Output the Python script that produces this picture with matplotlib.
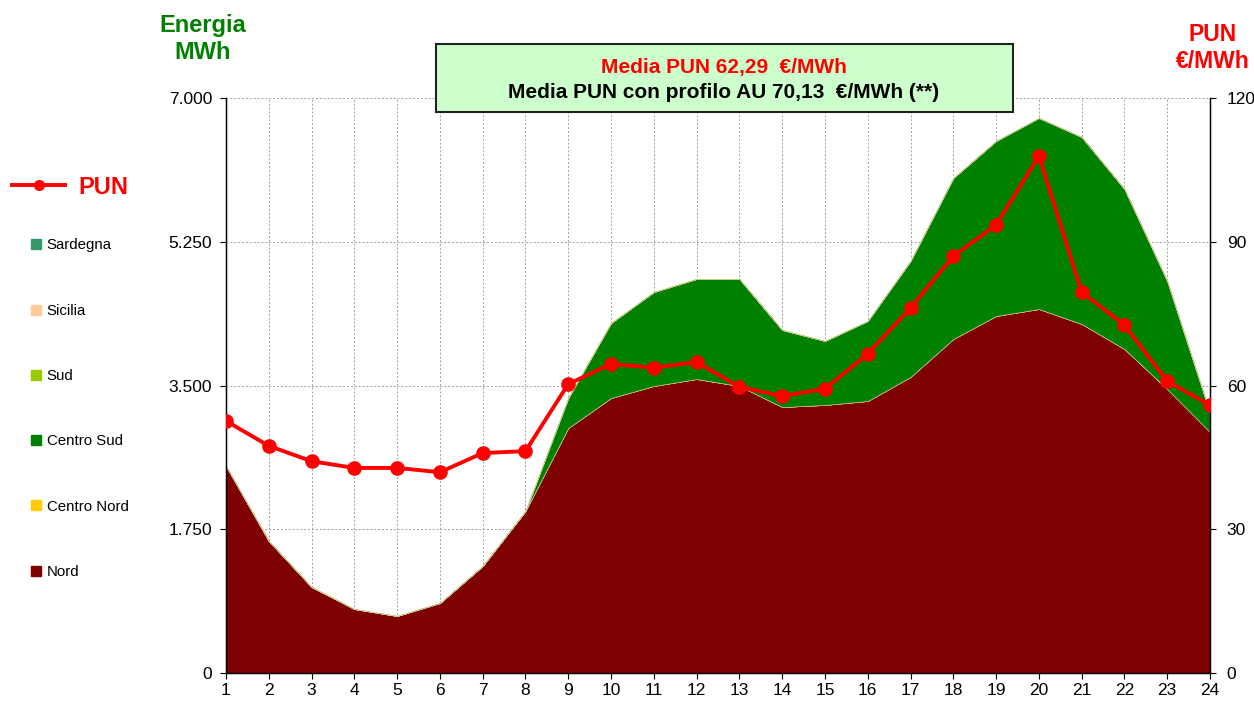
import matplotlib
matplotlib.use("Agg")
import matplotlib.pyplot as plt
from matplotlib.lines import Line2D
from matplotlib.patches import FancyBboxPatch
from matplotlib.ticker import FuncFormatter, FixedLocator

plt.rcParams['font.family'] = ['Liberation Sans', 'DejaVu Sans']

hours = list(range(1, 25))
nord = [2520, 1607, 1047, 779, 694, 852, 1303, 1972, 2983, 3348, 3494, 3579,
        3494, 3238, 3263, 3311, 3604, 4066, 4346, 4431, 4249, 3944, 3457, 2934]
centro_nord = [0] * 24
totale = [2520, 1607, 1047, 779, 694, 852, 1303, 1972, 3348, 4261, 4638, 4797,
          4797, 4176, 4042, 4285, 5016, 6026, 6477, 6757, 6525, 5892, 4772, 3165]
centro_sud = [t - n for t, n in zip(totale, nord)]
sud = [0] * 24
sicilia = [0] * 24
sardegna = [0] * 24
pun = [52.6, 47.4, 44.2, 42.8, 42.8, 41.9, 45.9, 46.3, 60.3, 64.5, 63.7, 64.9,
       59.7, 57.8, 59.3, 66.6, 76.2, 87.0, 93.5, 107.9, 79.5, 72.6, 60.9, 55.9]

zone_labels = ['Nord', 'Centro Nord', 'Centro Sud', 'Sud', 'Sicilia', 'Sardegna']
zone_colors = ['#7F0000', '#FFCC00', '#008000', '#99CC00', '#FFCC99', '#339966']
left_ticks = [0, 1750, 3500, 5250, 7000]
right_ticks = [0, 30, 60, 90, 120]

fig = plt.figure(figsize=(12.54, 7.05), dpi=100)
ax = fig.add_axes([226/1254, 32/705, (1210-226)/1254, (673-98)/705])

ax.stackplot(hours, nord, centro_nord, centro_sud, sud, sicilia, sardegna,
             colors=zone_colors, linewidth=0.4, edgecolor='#C8C88A', zorder=2)
ax.set_xlim(1, 24)
ax.set_ylim(0, 7000)
ax.set_xticks(hours)
ax.yaxis.set_major_locator(FixedLocator(left_ticks))
ax.yaxis.set_major_formatter(FuncFormatter(lambda v, p: f"{int(v):,}".replace(',', '.')))
ax.grid(True, color='#A0A0A0', linestyle=(0, (2, 2)), linewidth=0.7, zorder=0)
ax.set_axisbelow(True)
ax.spines['top'].set_visible(False)
for s in ['left', 'bottom', 'right']:
    ax.spines[s].set_linewidth(1.0)
ax.tick_params(axis='both', labelsize=12.5, direction='out', length=4, width=0.8)
ax.tick_params(axis='y', pad=6)

ax2 = ax.twinx()
ax2.plot(hours, pun, color='#FF0000', linewidth=2.8, marker='o', markersize=9.5, zorder=5)
ax2.set_ylim(0, 120)
ax2.yaxis.set_major_locator(FixedLocator(right_ticks))
ax2.spines['top'].set_visible(False)
ax2.tick_params(axis='y', labelsize=12.5, direction='out', length=4, width=0.8, pad=8)

# axis titles
fig.text(203/1254, 1 - 39/705, 'Energia\nMWh', color='#008000', fontsize=17,
         fontweight='bold', ha='center', va='center', linespacing=1.2)
fig.text(1213/1254, 1 - 48/705, 'PUN\n€/MWh', color='#FF0000', fontsize=16.5,
         fontweight='bold', ha='center', va='center', linespacing=1.2)

# info box
box = FancyBboxPatch((436/1254, 1 - 112/705), (1013-436)/1254, (112-44)/705,
                     boxstyle='square,pad=0', transform=fig.transFigure,
                     facecolor='#CCFFCC', edgecolor='#222222', linewidth=1.5, zorder=10)
fig.patches.append(box)
fig.text(724/1254, 1 - 67.5/705, 'Media PUN 62,29  €/MWh', color='#FF0000', fontsize=15,
         fontweight='bold', ha='center', va='center', zorder=11)
fig.text(724/1254, 1 - 92/705, 'Media PUN con profilo AU 70,13  €/MWh (**)', color='black',
         fontsize=15, fontweight='bold', ha='center', va='center', zorder=11)

# legends
h_pun = [Line2D([0], [0], color='#FF0000', linewidth=2.8, marker='o', markersize=7)]
leg1 = fig.legend(h_pun, ['PUN'], loc='center left', bbox_to_anchor=(12/1254, 1 - 187/705),
                  frameon=False, fontsize=17, handlelength=2.25, handletextpad=0.55,
                  borderaxespad=0, borderpad=0)
for t in leg1.get_texts():
    t.set_color('#FF0000')
    t.set_fontweight('bold')

order = [5, 4, 3, 2, 1, 0]
h_z = [Line2D([0], [0], color=zone_colors[i], marker='s', markersize=7, linestyle='None')
       for i in order]
leg2 = fig.legend(h_z, [zone_labels[i] for i in order], loc='upper left',
                  bbox_to_anchor=(0.024, 1 - 238.5/705), frameon=False, fontsize=10.8,
                  handlelength=0.8, handletextpad=0.3, labelspacing=3.42,
                  borderaxespad=0, borderpad=0)

fig.savefig('out.png', dpi=100)
